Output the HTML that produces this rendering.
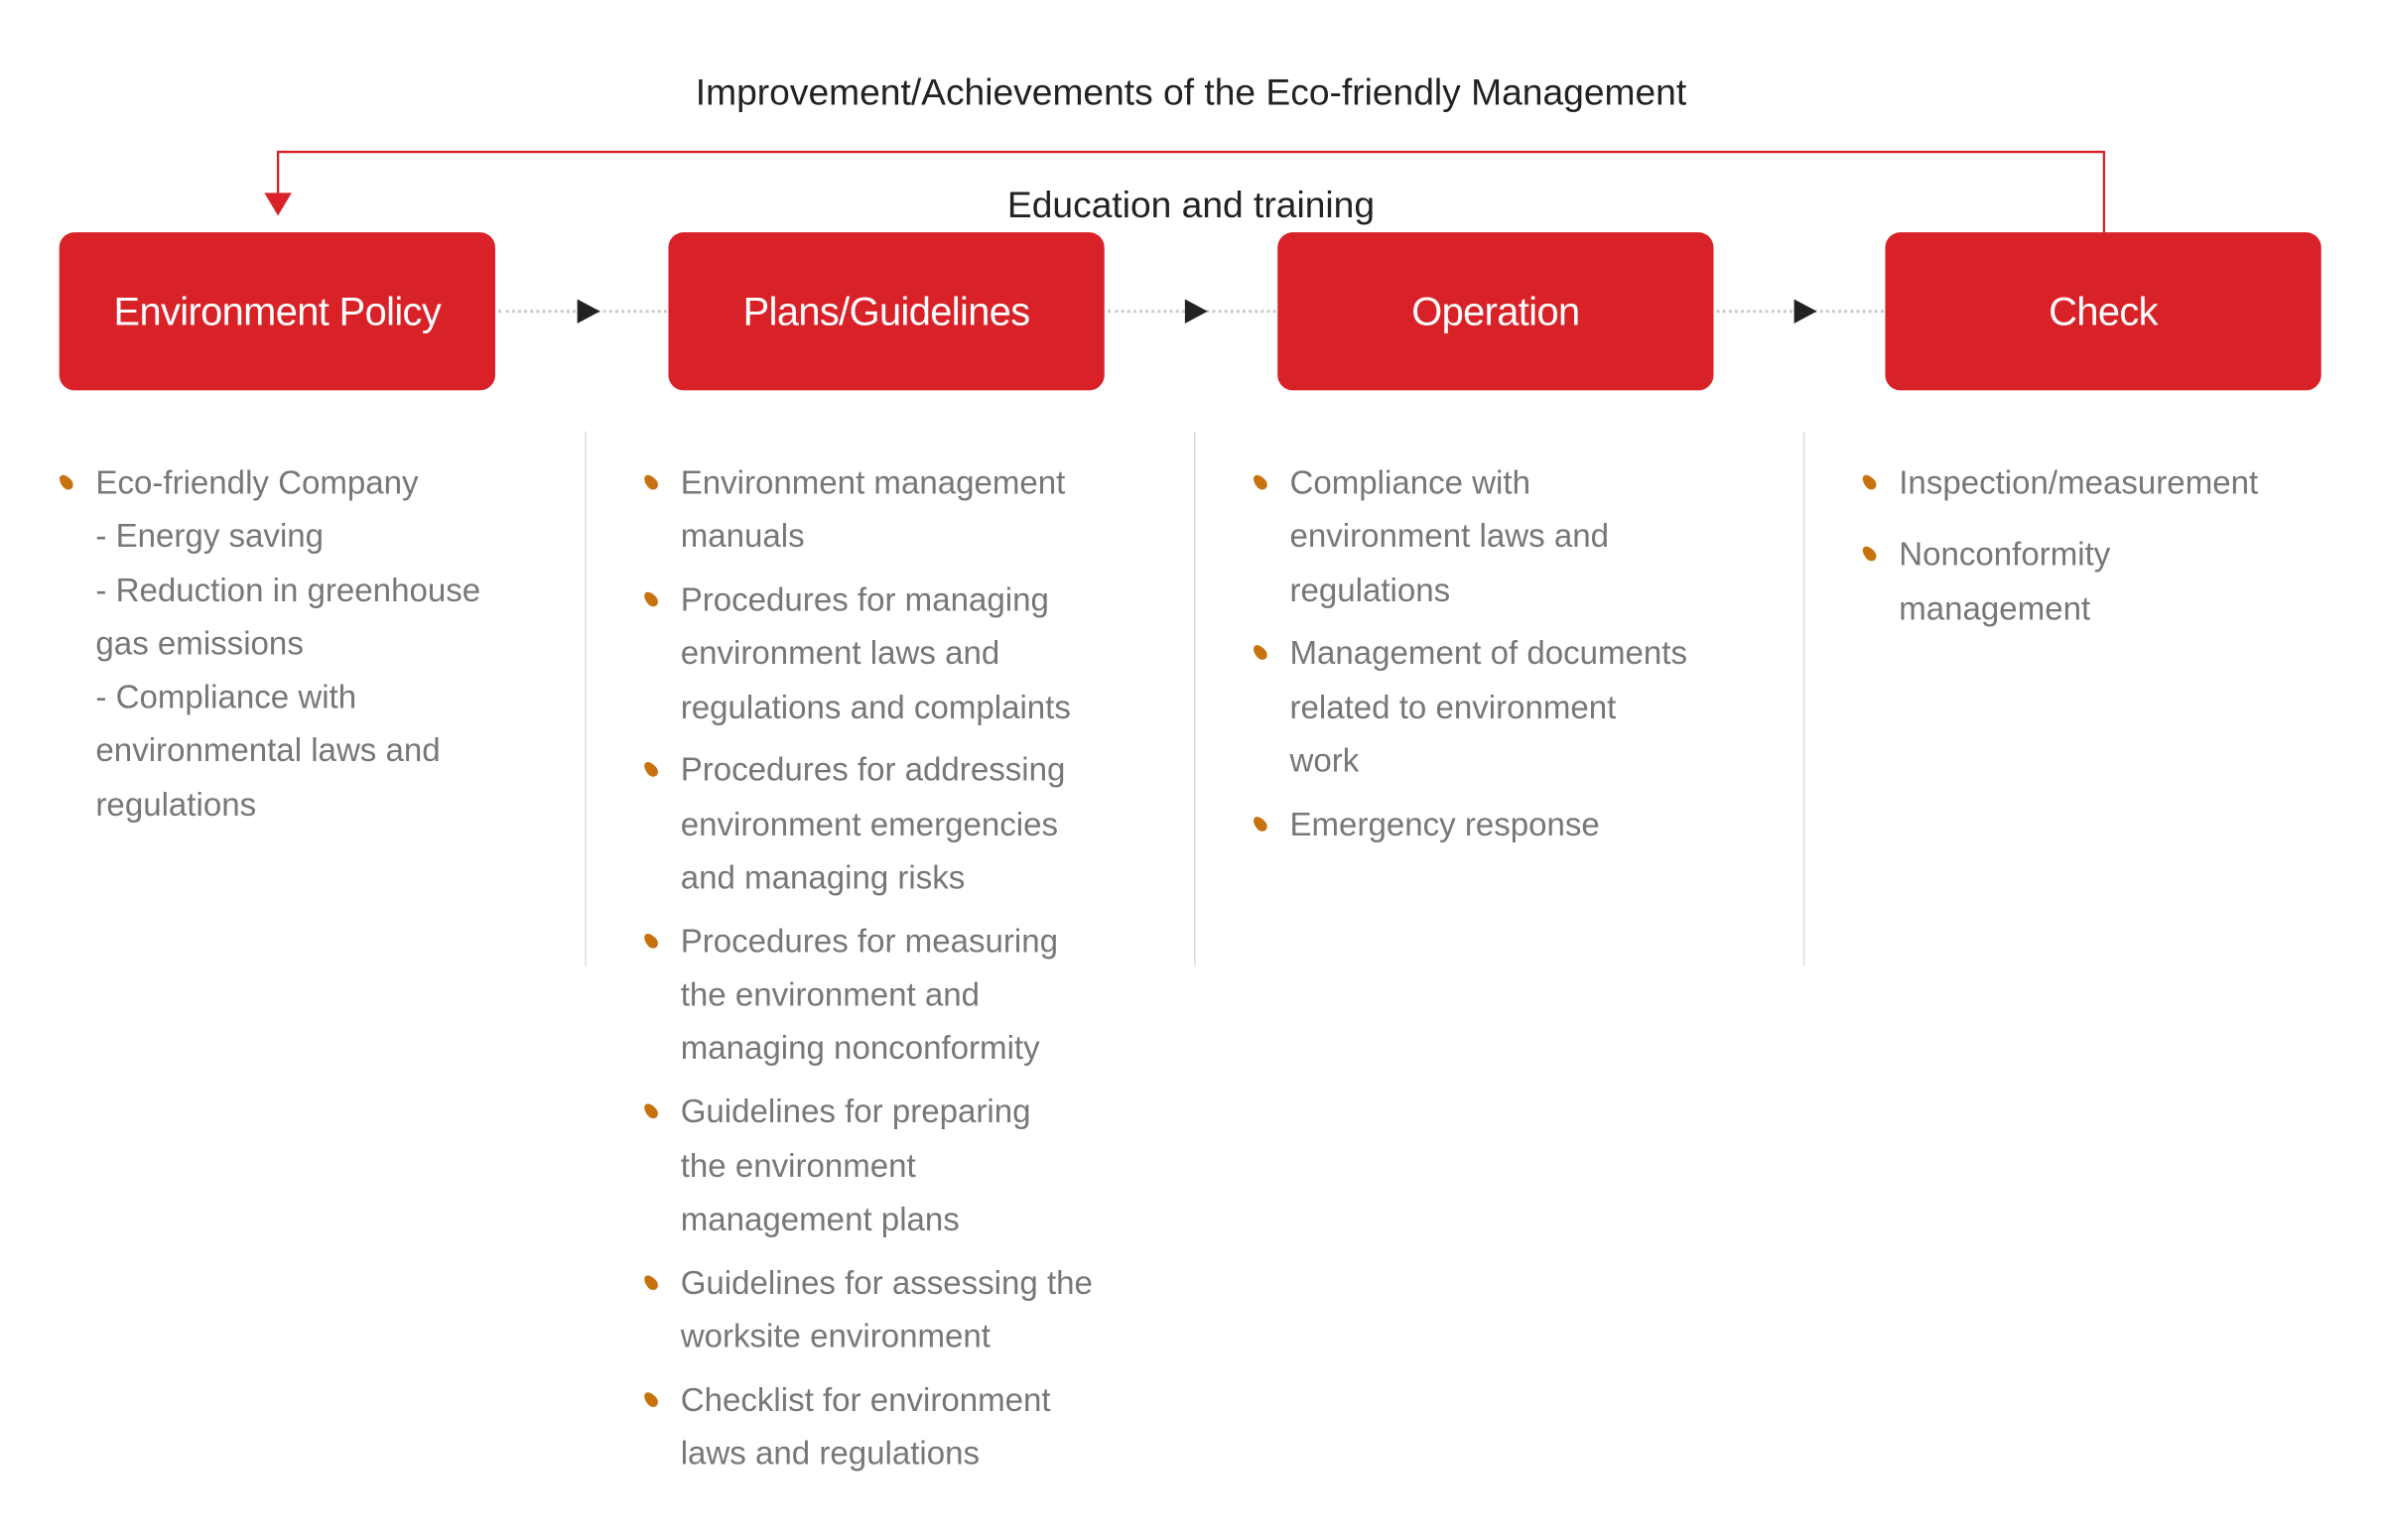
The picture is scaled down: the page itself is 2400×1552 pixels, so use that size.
<!DOCTYPE html>
<html><head><meta charset="utf-8"><style>
html,body{margin:0;padding:0;background:#fff;}
body{width:2400px;height:1552px;overflow:hidden;position:relative;}
#w{position:absolute;left:0;top:0;width:1568px;height:1014px;transform:scale(1.5306);transform-origin:0 0;font-family:"Liberation Sans",sans-serif;}
.t{position:absolute;left:0;width:1568px;text-align:center;font-size:24.3px;color:#222;line-height:30px;}
.box{position:absolute;top:153px;width:287px;height:104px;background:#d92128;border-radius:10px;color:#fff;font-size:26px;letter-spacing:-0.4px;text-align:center;line-height:104px;}
.vl{position:absolute;top:284px;height:352px;width:1px;background:#ddd;}
.dot{position:absolute;top:204px;height:0;border-top:2px dotted #ccc;}
.tri{position:absolute;top:197px;width:0;height:0;border-top:8px solid transparent;border-bottom:8px solid transparent;border-left:15px solid #222;}
.col{position:absolute;top:300px;font-size:21.6px;color:#777;line-height:35.3px;}
.it{position:relative;margin-bottom:6.5px;white-space:nowrap;}
.it:before{content:"";position:absolute;left:-23px;top:12px;width:7px;height:11px;background:#c8720f;border-radius:50% 50% 50% 50%/60% 60% 40% 40%;transform:rotate(-40deg);}
</style></head><body><div id="w">
<div class="t" style="top:47px">Improvement/Achievements of the Eco-friendly Management</div>
<div class="t" style="top:121px">Education and training</div>
<svg style="position:absolute;left:0;top:0" width="1568" height="160">
<polyline points="183,128 183,100 1385,100 1385,153" fill="none" stroke="#d92128" stroke-width="1.5"/>
<polygon points="174,127 192,127 183,142" fill="#d92128"/>
</svg>
<div class="box" style="left:39px">Environment Policy</div>
<div class="box" style="left:440px">Plans/Guidelines</div>
<div class="box" style="left:841px">Operation</div>
<div class="box" style="left:1241px">Check</div>
<div class="dot" style="left:328px;width:111px"></div><div class="tri" style="left:380px"></div>
<div class="dot" style="left:729px;width:111px"></div><div class="tri" style="left:780px"></div>
<div class="dot" style="left:1130px;width:110px"></div><div class="tri" style="left:1181px"></div>
<div class="vl" style="left:385px"></div>
<div class="vl" style="left:786px"></div>
<div class="vl" style="left:1187px"></div>
<div class="col" style="left:63px">
<div class="it">Eco-friendly Company<br>- Energy saving<br>- Reduction in greenhouse<br>gas emissions<br>- Compliance with<br>environmental laws and<br>regulations</div>
</div>
<div class="col" style="left:448px">
<div class="it">Environment management<br>manuals</div>
<div class="it">Procedures for managing<br>environment laws and<br>regulations and complaints</div>
<div class="it">Procedures for addressing<br>environment emergencies<br>and managing risks</div>
<div class="it">Procedures for measuring<br>the environment and<br>managing nonconformity</div>
<div class="it">Guidelines for preparing<br>the environment<br>management plans</div>
<div class="it">Guidelines for assessing the<br>worksite environment</div>
<div class="it">Checklist for environment<br>laws and regulations</div>
</div>
<div class="col" style="left:849px">
<div class="it">Compliance with<br>environment laws and<br>regulations</div>
<div class="it">Management of documents<br>related to environment<br>work</div>
<div class="it">Emergency response</div>
</div>
<div class="col" style="left:1250px">
<div class="it" style="margin-bottom:12px">Inspection/measurement</div>
<div class="it">Nonconformity<br>management</div>
</div>
</div></body></html>
